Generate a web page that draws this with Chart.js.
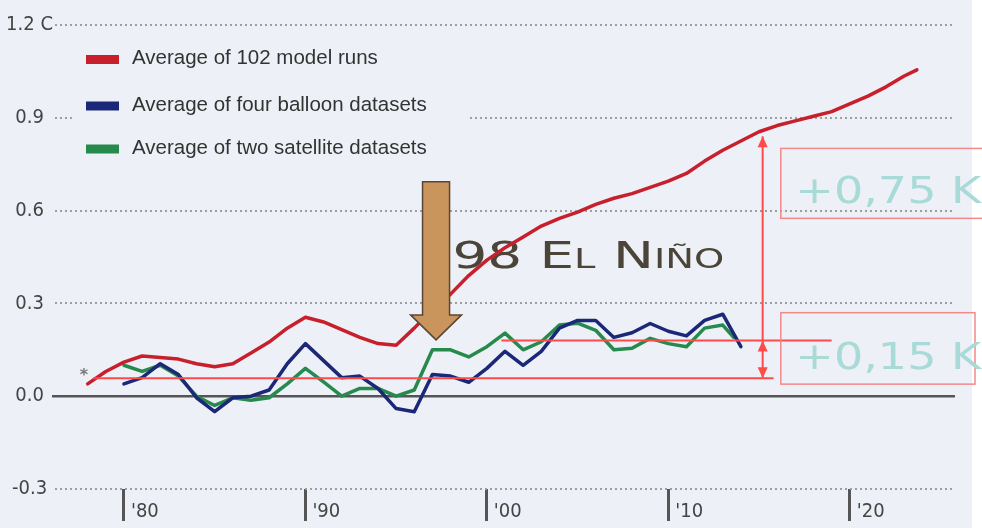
<!DOCTYPE html>
<html>
<head>
<meta charset="utf-8">
<script src="https://cdn.jsdelivr.net/npm/chart.js@4.4.0/dist/chart.umd.min.js"></script>
<style>
	body { margin: 0; background: #fff; }
	canvas { display: block; }
</style>
</head>
<body>
<canvas id="main-chart" width="982" height="528"></canvas>
<script>
// model runs (red)
const modelYears = [1978, 1979, 1980, 1981, 1982, 1983, 1984, 1985, 1986, 1987, 1988, 1989, 1990, 1991, 1992, 1993, 1994, 1995, 1996, 1997, 1998, 1999, 2000, 2001, 2002, 2003, 2004, 2005, 2006, 2007, 2008, 2009, 2010, 2011, 2012, 2013, 2014, 2015, 2016, 2017, 2018, 2019, 2020, 2021, 2022, 2023, 2023.7];
const modelValues = [0.04, 0.08, 0.11, 0.13, 0.125, 0.12, 0.105, 0.095, 0.105, 0.14, 0.175, 0.22, 0.255, 0.24, 0.215, 0.19, 0.17, 0.165, 0.22, 0.28, 0.33, 0.39, 0.44, 0.48, 0.515, 0.55, 0.575, 0.595, 0.62, 0.64, 0.655, 0.675, 0.695, 0.72, 0.76, 0.795, 0.825, 0.855, 0.875, 0.89, 0.905, 0.92, 0.945, 0.97, 1.0, 1.035, 1.055];

// balloon datasets (blue)
const balloonYears = [1980, 1981, 1982, 1983, 1984, 1985, 1986, 1987, 1988, 1989, 1990, 1991, 1992, 1993, 1994, 1995, 1996, 1997, 1998, 1999, 2000, 2001, 2002, 2003, 2004, 2005, 2006, 2007, 2008, 2009, 2010, 2011, 2012, 2013, 2014];
const balloonValues = [0.04, 0.06, 0.105, 0.07, -0.005, -0.05, -0.005, 0.0, 0.02, 0.105, 0.17, 0.115, 0.06, 0.065, 0.025, -0.04, -0.05, 0.07, 0.065, 0.045, 0.09, 0.145, 0.1, 0.145, 0.22, 0.245, 0.245, 0.19, 0.205, 0.235, 0.21, 0.195, 0.245, 0.265, 0.16];

// satellite datasets (green)
const satelliteYears = [1980, 1981, 1982, 1983, 1984, 1985, 1986, 1987, 1988, 1989, 1990, 1991, 1992, 1993, 1994, 1995, 1996, 1997, 1998, 1999, 2000, 2001, 2002, 2003, 2004, 2005, 2006, 2007, 2008, 2009, 2010, 2011, 2012, 2013, 2013.6];
const satelliteValues = [0.1, 0.08, 0.1, 0.065, 0.0, -0.03, -0.005, -0.013, -0.005, 0.04, 0.09, 0.046, 0.0, 0.025, 0.025, 0.0, 0.02, 0.15, 0.15, 0.127, 0.16, 0.204, 0.15, 0.176, 0.23, 0.236, 0.213, 0.15, 0.155, 0.187, 0.17, 0.16, 0.22, 0.23, 0.19];

const seriesLabels = ['Average of 102 model runs', 'Average of four balloon datasets', 'Average of two satellite datasets'];
const seriesColors = ['#c71f2b', '#1b2878', '#258a4c'];

// axes
const yTicks = [-0.3, 0, 0.3, 0.6, 0.9, 1.2];
const yLabels = ['-0.3', '0.0', '0.3', '0.6', '0.9', '1.2 C'];
const xTicks = [1980, 1990, 2000, 2010, 2020];
const xLabels = ["'80", "'90", "'00", "'10", "'20"];

// annotation levels (red guide lines)
const guideLevels = [0.058, 0.18];
const guideStarts = [1978.3, 2000.8];
const guideEnds = [2015.8, 2019.0];
const spanYear = 2015.2;
const spanTop = 0.84;
const diffLabels = ['+0,75 K', '+0,15 K'];
const ninoLabel = '98 El Niño';
const ninoYear = 1997.2;

function pts(xs, ys) {
	return xs.map((x, i) => ({x: x, y: ys[i]}));
}

const BG = '#edf0f6';

const decor = {
	id: 'decor',
	beforeDraw(chart) {
		const ctx = chart.ctx;
		ctx.save();
		ctx.fillStyle = '#ffffff';
		ctx.fillRect(0, 0, chart.width, chart.height);
		ctx.fillStyle = BG;
		ctx.fillRect(0, 0, 972, chart.height);
		ctx.restore();
	},
	beforeDatasetsDraw(chart) {
		const ctx = chart.ctx;
		const xs = chart.scales.x, ys = chart.scales.y;
		ctx.save();
		// zero line
		ctx.strokeStyle = '#555';
		ctx.lineWidth = 2.5;
		ctx.beginPath();
		ctx.moveTo(xs.left - 3, ys.getPixelForValue(0));
		ctx.lineTo(xs.right, ys.getPixelForValue(0));
		ctx.stroke();

		// legend
		ctx.fillStyle = BG;
		ctx.fillRect(72, 36, 398, 134);
		const rows = [59.5, 106, 149];
		ctx.font = '20.5px "Liberation Sans", Arial, sans-serif';
		ctx.textBaseline = 'middle';
		seriesLabels.forEach((lab, i) => {
			ctx.fillStyle = seriesColors[i];
			ctx.fillRect(86, rows[i] - 4.5, 33, 9);
			ctx.fillStyle = '#333';
			ctx.fillText(lab, 132, rows[i] - 1);
		});

		// star marker
		ctx.fillStyle = '#777';
		ctx.font = 'bold 16px "DejaVu Sans"';
		ctx.textAlign = 'center';
		ctx.fillText('*', xs.getPixelForValue(1977.8), ys.getPixelForValue(0.065));

		// El Nino text
		ctx.textAlign = 'left';
		ctx.textBaseline = 'alphabetic';
		ctx.fillStyle = '#4b4539';
		ctx.font = 'small-caps 37px "DejaVu Sans"';
		fitText(ctx, ninoLabel, xs.getPixelForValue(1998.1), ys.getPixelForValue(0.413), 272);
		ctx.restore();
	},
	afterDatasetsDraw(chart) {
		const ctx = chart.ctx;
		const xs = chart.scales.x, ys = chart.scales.y;
		ctx.save();

		// vertical span arrows
		const vx = xs.getPixelForValue(spanYear);
		const yTop = ys.getPixelForValue(spanTop);
		const yMid = ys.getPixelForValue(guideLevels[1]);
		const yLow = ys.getPixelForValue(guideLevels[0]);
		ctx.strokeStyle = '#ff4a4a';
		ctx.fillStyle = '#ff4a4a';
		ctx.lineWidth = 2;
		ctx.beginPath();
		ctx.moveTo(vx, yTop);
		ctx.lineTo(vx, yLow);
		ctx.stroke();
		arrowHead(ctx, vx, yTop, -1);
		arrowHead(ctx, vx, yMid, -1);
		arrowHead(ctx, vx, yLow, 1);

		// label boxes
		ctx.strokeStyle = '#f28a8a';
		ctx.lineWidth = 1.5;
		const bx = xs.getPixelForValue(2016.2);
		const b1t = ys.getPixelForValue(0.801), b1b = ys.getPixelForValue(0.575);
		const b2t = ys.getPixelForValue(0.27), b2b = ys.getPixelForValue(0.039);
		ctx.strokeRect(bx, b1t, 220, b1b - b1t);
		ctx.strokeRect(bx, b2t, 975 - bx, b2b - b2t);

		ctx.fillStyle = '#a8dad8';
		ctx.font = '37px "DejaVu Sans"';
		ctx.textBaseline = 'alphabetic';
		fitText(ctx, diffLabels[0], xs.getPixelForValue(2017.0), ys.getPixelForValue(0.623), 186);
		fitText(ctx, diffLabels[1], xs.getPixelForValue(2017.0), ys.getPixelForValue(0.087), 186);

		// brown El Nino arrow
		const ax = xs.getPixelForValue(ninoYear);
		const tipY = ys.getPixelForValue(0.182);
		const topY = ys.getPixelForValue(0.693);
		const baseY = tipY - 25;
		ctx.beginPath();
		ctx.moveTo(ax - 13.5, topY);
		ctx.lineTo(ax + 13.5, topY);
		ctx.lineTo(ax + 13.5, baseY);
		ctx.lineTo(ax + 25.5, baseY);
		ctx.lineTo(ax, tipY);
		ctx.lineTo(ax - 25.5, baseY);
		ctx.lineTo(ax - 13.5, baseY);
		ctx.closePath();
		ctx.fillStyle = '#c9955d';
		ctx.fill();
		ctx.strokeStyle = '#5a4634';
		ctx.lineWidth = 1.5;
		ctx.stroke();
		ctx.restore();
	}
};

function fitText(ctx, text, x, y, w) {
	const m = ctx.measureText(text).width;
	ctx.save();
	ctx.translate(x, y);
	ctx.scale(w / m, 1);
	ctx.fillText(text, 0, 0);
	ctx.restore();
}

function arrowHead(ctx, x, y, dir) {
	// dir -1 = pointing up, 1 = pointing down
	ctx.beginPath();
	ctx.moveTo(x, y);
	ctx.lineTo(x - 5, y - dir * 11);
	ctx.lineTo(x + 5, y - dir * 11);
	ctx.closePath();
	ctx.fill();
}

const lineStyle = {pointRadius: 0, borderWidth: 3.5, tension: 0, fill: false, borderJoinStyle: 'round', borderCapStyle: 'round'};
const guideStyle = {pointRadius: 0, borderWidth: 2, borderColor: '#ff4a4a', fill: false, order: 0};

const datasets = [
	Object.assign({label: seriesLabels[0], data: pts(modelYears, modelValues), borderColor: seriesColors[0], order: 1}, lineStyle),
	Object.assign({label: seriesLabels[1], data: pts(balloonYears, balloonValues), borderColor: seriesColors[1], order: 2}, lineStyle),
	Object.assign({label: seriesLabels[2], data: pts(satelliteYears, satelliteValues), borderColor: seriesColors[2], order: 3}, lineStyle)
];
guideLevels.forEach((lv, i) => {
	datasets.push(Object.assign({label: 'guide' + i, data: [{x: guideStarts[i], y: lv}, {x: guideEnds[i], y: lv}]}, guideStyle));
});

const tickFont = {family: '"DejaVu Sans Condensed", "Liberation Sans", sans-serif', size: 20};

var ctx = document.getElementById('main-chart');
const chart = new Chart(ctx, {
	type: 'line',
	data: {datasets: datasets},
	options: {
		responsive: false,
		devicePixelRatio: 1,
		animation: false,
		layout: {padding: {left: 0, right: 27, top: 25, bottom: 0}},
		plugins: {legend: {display: false}, tooltip: {enabled: false}},
		scales: {
			x: {
				type: 'linear',
				min: 1976.2,
				max: 2025.8,
				afterBuildTicks: s => { s.ticks = xTicks.map(v => ({value: v})); },
				afterFit: s => { s.height = 39; },
				grid: {drawOnChartArea: false, drawTicks: true, tickLength: 32, tickWidth: 3, tickColor: '#555'},
				border: {display: false},
				ticks: {
					align: 'start',
					labelOffset: 7,
					padding: -21,
					maxRotation: 0,
					color: '#444',
					font: tickFont,
					callback: (v, i) => xLabels[i]
				}
			},
			y: {
				min: -0.3,
				max: 1.2,
				afterBuildTicks: s => { s.ticks = yTicks.map(v => ({value: v})); },
				afterFit: s => { s.width = 55; },
				grid: {
					drawTicks: false,
					lineWidth: 2,
					color: c => (c.tick && c.tick.value === 0) ? 'rgba(0,0,0,0)' : '#9e9e9e'
				},
				border: {display: false, dash: [2, 3]},
				ticks: {
					crossAlign: 'center',
					padding: 2,
					color: '#444',
					font: tickFont,
					callback: (v, i) => yLabels[i]
				}
			}
		}
	},
	plugins: [decor]
});
</script>
</body>
</html>
